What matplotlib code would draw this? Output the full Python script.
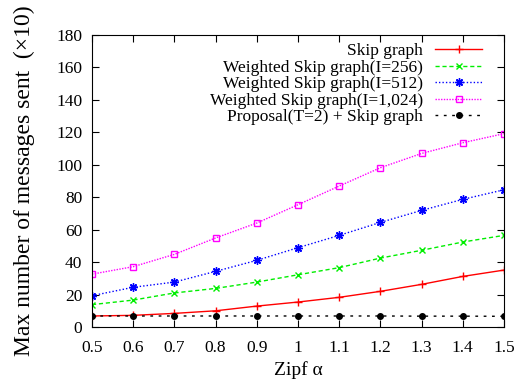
import matplotlib
matplotlib.use('Agg')
from matplotlib import pyplot as plt

plt.rcParams['font.family'] = ['Liberation Serif', 'DejaVu Serif']
plt.rcParams['mathtext.fontset'] = 'stix'

zipf = [0.5, 0.6, 0.7, 0.8, 0.9, 1.0, 1.1, 1.2, 1.3, 1.4, 1.5]
skip_graph = [6.8, 7.2, 8.4, 10.0, 12.9, 15.4, 18.3, 22.0, 26.3, 31.2, 35.1]
weighted_256 = [13.8, 16.6, 21.0, 23.8, 27.7, 32.2, 36.6, 42.5, 47.3, 52.4, 56.5]
weighted_512 = [19.3, 24.5, 27.7, 34.3, 41.1, 48.9, 56.5, 64.5, 71.9, 78.7, 84.6]
weighted_1024 = [32.6, 37.2, 44.8, 54.9, 64.1, 75.4, 86.9, 98.2, 107.0, 113.6, 119.2]
proposal = [6.8, 6.8, 6.8, 6.8, 6.8, 6.8, 6.8, 6.8, 6.7, 6.7, 6.6]

xticks = [0.5, 0.6, 0.7, 0.8, 0.9, 1.0, 1.1, 1.2, 1.3, 1.4, 1.5]
xtick_labels = ['0.5', '0.6', '0.7', '0.8', '0.9', '1', '1.1', '1.2', '1.3', '1.4', '1.5']
yticks = list(range(0, 181, 20))

fig = plt.figure(figsize=(5.18, 3.85), dpi=100)
ax = fig.add_axes([0.1776, 0.1506, 0.7954, 0.7584])

ax.plot(zipf, skip_graph, color='#ff0000', lw=1.0, ls='-', marker='+', ms=6, mew=1.0,
        label='Skip graph')
ax.plot(zipf, weighted_256, color='#00ee00', lw=1.0, ls=(0, (3, 2)), marker='x', ms=5, mew=1.0,
        label='Weighted Skip graph(I=256)')
ax.plot(zipf, weighted_512, color='#0000ff', lw=1.0, ls=(0, (1, 1.5)), marker=(8, 2, 0), ms=6, mew=1.0,
        label='Weighted Skip graph(I=512)')
ax.plot(zipf, weighted_1024, color='#ff00ff', lw=1.0, ls=(0, (1, 1)), marker='s', ms=5, mew=1.0,
        mfc='none', label='Weighted Skip graph(I=1,024)')
ax.plot(zipf, proposal, color='black', lw=1.0, ls=(0, (2, 4)), marker='o', ms=4,
        label='Proposal(T=2) + Skip graph')

ax.set_xlim(0.5, 1.5)
ax.set_ylim(0, 180)
ax.set_xticks(xticks)
ax.set_xticklabels(xtick_labels)
ax.set_yticks(yticks)
ax.tick_params(direction='in', top=True, right=True, labelsize=12.5, length=5)
ax.tick_params(axis='x', pad=9)
ax.tick_params(axis='y', pad=7)

ax.set_xlabel('Zipf α', fontsize=14, labelpad=4)
ax.set_ylabel('Max number of messages sent  (×10)', fontsize=17, labelpad=15)

ax.legend(loc='upper right', bbox_to_anchor=(0.947, 0.972), frameon=False,
          markerfirst=False, fontsize=12.5, handlelength=2.7, handletextpad=0.7,
          labelspacing=0.02, borderaxespad=0, borderpad=0)

fig.savefig('out.png', dpi=100)
